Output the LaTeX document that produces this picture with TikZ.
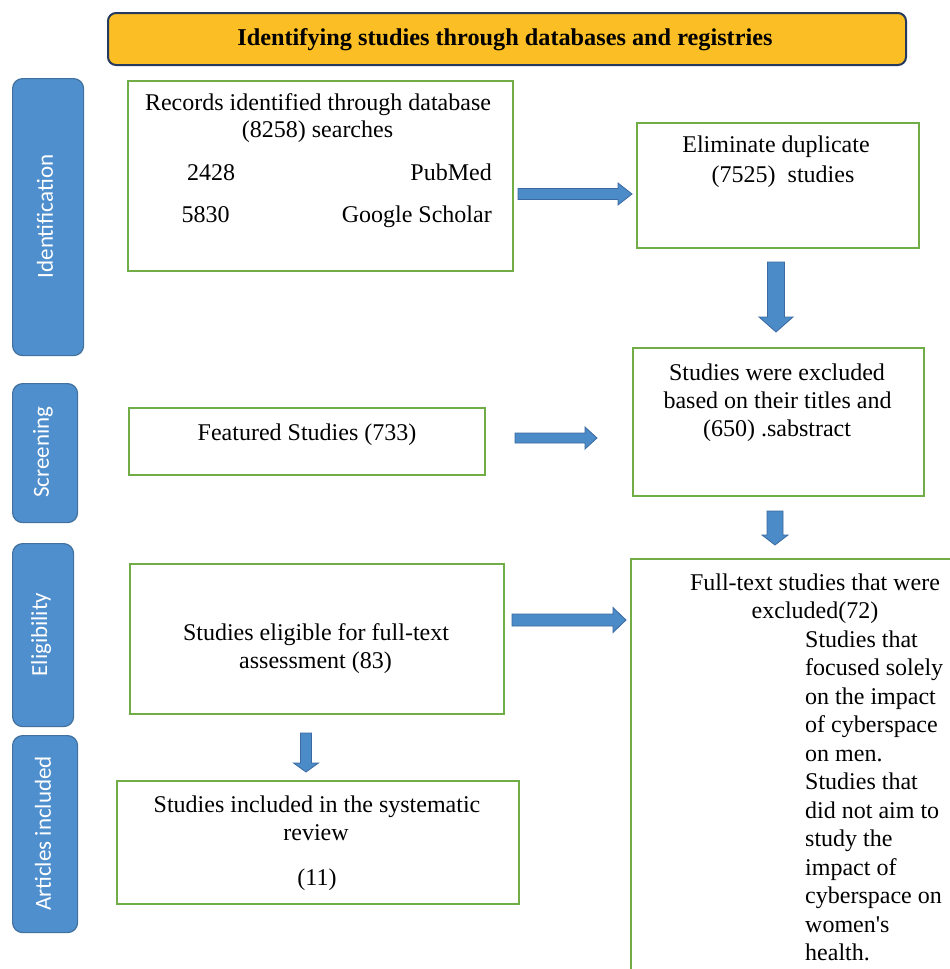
\documentclass[tikz,border=0pt]{standalone}
\usepackage{fontspec}
\usepackage{graphicx}
\setmainfont{Liberation Serif}
\newfontfamily\plainserif{Liberation Serif}
\newfontfamily\sidefont{Carlito}
\usetikzlibrary{calc}
\definecolor{gboxc}{RGB}{112,173,71}
\definecolor{sidefill}{RGB}{79,143,205}
\definecolor{sideline}{RGB}{65,113,156}
\definecolor{hdrfill}{RGB}{251,190,36}
\definecolor{hdrline}{RGB}{38,58,96}
\definecolor{arrfill}{RGB}{74,139,200}
\definecolor{arrline}{RGB}{60,105,160}
\tikzset{
 gbox/.style={draw=gboxc, line width=2pt, inner sep=0pt, anchor=north west, fill=white},
 sidebox/.style={draw=sideline, fill=sidefill, line width=1.2pt, rounded corners=10pt, inner sep=0pt, anchor=north west},
 sidetxt/.style={rotate=90, text=white, font=\sidefont\fontsize{23}{23}\selectfont, inner sep=0pt},
 txt/.style={font=\fontsize{24}{28}\selectfont, inner sep=0pt, anchor=base},
 txtl/.style={txt, anchor=base west},
 txtr/.style={txt, anchor=base east},
 barrow/.style={fill=arrfill, draw=arrline, line width=0.8pt, line join=miter},
}
% horizontal block arrow: start, end, half shaft, half head, head length
\newcommand\harrowR[5]{%
 \filldraw[barrow] let \p1=(#1), \p2=(#2) in
 (\x1,\y1+#3) -- (\x2-#5,\y1+#3) -- (\x2-#5,\y1+#4) -- (\x2,\y1) -- (\x2-#5,\y1-#4) -- (\x2-#5,\y1-#3) -- (\x1,\y1-#3) -- cycle;}
% vertical (down) block arrow
\newcommand\varrowD[5]{%
 \filldraw[barrow] let \p1=(#1), \p2=(#2) in
 (\x1-#3,\y1) -- (\x1-#3,\y2+#5) -- (\x1-#4,\y2+#5) -- (\x1,\y2) -- (\x1+#4,\y2+#5) -- (\x1+#3,\y2+#5) -- (\x1+#3,\y1) -- cycle;}
\begin{document}
\begin{tikzpicture}[x=1pt,y=-1pt]
\useasboundingbox[fill=white] (0,0) rectangle (950,969);

% header
\node[draw=hdrline, fill=hdrfill, line width=2pt, rounded corners=8pt, anchor=north west,
      minimum width=798pt, minimum height=52pt, inner sep=0pt] (hdr) at (107,12) {};
\node[inner sep=0pt, anchor=base] (htxt) at (505,45)
  {\resizebox{535pt}{17pt}{\bfseries Identifying studies through databases and registries}};

% side labels
\node[sidebox, minimum width=71pt, minimum height=277pt] (sidA) at (12,78) {};
\node[sidetxt] (sidAt) at (45,216.5) {Identification};
\node[sidebox, minimum width=65pt, minimum height=139pt] (sidB) at (12,383) {};
\node[sidetxt] (sidBt) at (43,452) {Screening};
\node[sidebox, minimum width=61pt, minimum height=183pt] (sidC) at (12,543) {};
\node[sidetxt] (sidCt) at (41,634.5) {Eligibility};
\node[sidebox, minimum width=65pt, minimum height=197pt] (sidD) at (12,735) {};
\node[sidetxt] (sidDt) at (43,833.5) {Articles included};

% boxes
\node[gbox, minimum width=385pt, minimum height=190pt] (rec) at (127,80) {};
\node[gbox, minimum width=282pt, minimum height=125pt] (elim) at (636,122) {};
\node[gbox, minimum width=291pt, minimum height=148pt] (excl) at (632,347) {};
\node[gbox, minimum width=356pt, minimum height=67pt] (feat) at (128,407) {};
\node[gbox, minimum width=374pt, minimum height=150pt] (elig) at (129,563) {};
\node[gbox, minimum width=402pt, minimum height=123pt] (incl) at (116,780) {};
\begin{scope}
\clip (0,0) rectangle (950,969);
\node[gbox, minimum width=340pt, minimum height=430pt] (full) at (630,558) {};
\end{scope}

% texts
\node[txt] (r1) at (318,110) {Records identified through database};
\node[txt] (r2) at (317.5,137) {(8258) searches};
\node[txt] (r3) at (211,180) {2428};
\node[txtr] (r4) at (492,180) {PubMed};
\node[txt] (r5) at (205.5,222) {5830};
\node[txtr] (r6) at (492,222) {Google Scholar};

\node[txt] (e1) at (776,152) {Eliminate duplicate};
\node[txt] (e2) at (783,182) {(7525)\ \ studies};

\node[txt] (x1) at (777,380) {Studies were excluded};
\node[txt] (x2) at (777.5,408) {based on their titles and};
\node[txt] (x3) at (777,436) {(650) .sabstract};

\node[txt] (f1) at (307,440) {Featured Studies (733)};

\node[txt] (g1) at (316,640) {Studies eligible for full-text};
\node[txt] (g2) at (315.5,668) {assessment (83)};

\node[txt] (i1) at (317,812) {Studies included in the systematic};
\node[txt] (i2) at (316,840) {review};
\node[txt] (i3) at (317,885) {(11)};

\node[txt] (u1) at (815,590) {Full-text studies that were};
\node[txt] (u2) at (815,618) {excluded(72)};
\node[txtl] (u3) at (805,647) {Studies that};
\node[txtl] (u4) at (805,675.5) {focused solely};
\node[txtl] (u5) at (805,704) {on the impact};
\node[txtl] (u6) at (805,732.5) {of cyberspace};
\node[txtl] (u7) at (805,761) {on men.};
\node[txtl] (u8) at (805,789.5) {Studies that};
\node[txtl] (u9) at (805,818) {did not aim to};
\node[txtl] (u10) at (805,846.5) {study the};
\node[txtl] (u11) at (805,875) {impact of};
\node[txtl] (u12) at (805,903.5) {cyberspace on};
\node[txtl] (u13) at (805,932) {{\plainserif women's}};
\node[txtl] (u14) at (805,960.5) {health.};

% arrow end points
\coordinate (a1s) at ($(rec.east)+(4,18)$);
\coordinate (a1e) at ($(elim.west)+(-4,8.5)$);
\coordinate (a2s) at ($(feat.east)+(29,-3.5)$);
\coordinate (a2e) at ($(a2s -| excl.west)+(-35,0)$);
\coordinate (a3s) at ($(elig.east)+(7,-19)$);
\coordinate (a3e) at ($(a3s -| full.west)+(-4,0)$);
\coordinate (d1s) at ($(elim.south)+(-2,13)$);
\coordinate (d1e) at ($(excl.north)+(-2,-15)$);
\coordinate (d2s) at ($(excl.south)+(-3.5,14)$);
\coordinate (d2e) at ($(d2s |- full.north)+(0,-13)$);
\coordinate (d3s) at ($(elig.south)+(-11,18)$);
\coordinate (d3e) at ($(incl.north)+(0,-8)$);

% block arrows
\harrowR{a1s}{a1e}{5.5pt}{11pt}{14pt}
\harrowR{a2s}{a2e}{5pt}{11pt}{12pt}
\harrowR{a3s}{a3e}{6pt}{12.5pt}{13pt}
\varrowD{d1s}{d1e}{8.5pt}{17pt}{15pt}
\varrowD{d2s}{d2e}{8pt}{13pt}{10pt}
\varrowD{d3s}{d3e}{5.5pt}{12.5pt}{9pt}
\end{tikzpicture}
\end{document}
